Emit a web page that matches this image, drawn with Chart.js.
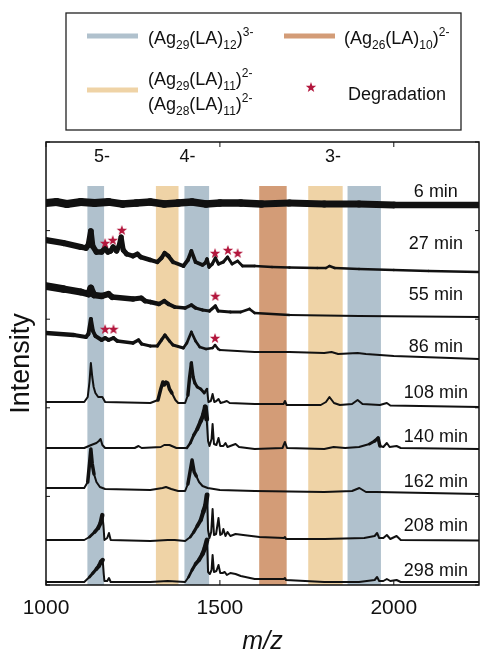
<!DOCTYPE html>
<html>
<head>
<meta charset="utf-8">
<script src="https://cdn.jsdelivr.net/npm/chart.js@4.4.1/dist/chart.umd.min.js"></script>
<style>
  html, body { margin: 0; padding: 0; background: #fff; }
  #wrap { width: 486px; height: 652px; }
</style>
</head>
<body>
<div id="wrap"><canvas id="chartEspectro"></canvas></div>
<script>
// eje m/z
const mzMin = 1000;
const mzMax = 2245;
const xTicks = [1000, 1500, 2000];

// tiempos, desplazamiento vertical de cada espectro y altura de su etiqueta
const tiempos = ['6 min', '27 min', '55 min', '86 min', '108 min', '140 min', '162 min', '208 min', '298 min'];
const offsets = [382, 313, 268, 226, 178, 136, 91, 45, 3];
const alturaEtiqueta = [393, 341, 290, 238, 192, 148, 103, 59, 14];
const mzEtiqueta = 2121;

// espectros [m/z, intensidad]
const t6 = [[1000,0],[1030,1],[1060,-1],[1100,1],[1140,0],[1180,1],[1220,-1],[1260,0],[1300,1],[1340,-1],[1380,0],[1420,1],[1460,-1],[1500,0],[1560,0],[1620,-1],[1700,0],[1800,-1],[1900,-1],[2000,-2],[2245,-2]];
const t27 = [[1000,32],[1050,29],[1100,25],[1115,24],[1122,27],[1129,41],[1134,26],[1145,20],[1160,20],[1170,24],[1178,20],[1186,21],[1193,25],[1203,21],[1210,26],[1216,35],[1222,22],[1232,18],[1250,16],[1263,18],[1272,15],[1300,12],[1320,10],[1332,14],[1341,19],[1352,16],[1365,10],[1395,6],[1408,12],[1418,21],[1430,10],[1450,7],[1458,9],[1463,13],[1469,5],[1478,8],[1487,14],[1496,8],[1510,10],[1522,15],[1535,8],[1551,11],[1565,6],[1600,6],[1650,5],[1700,4.5],[1780,4],[1805,4],[1815,6],[1830,4],[1900,3],[2000,2],[2100,1],[2245,0]];
const t55 = [[1000,31],[1050,28],[1100,25],[1122,23],[1129,29],[1138,22],[1160,21],[1180,23],[1190,20],[1250,18],[1274,19],[1285,16],[1300,15],[1325,13],[1340,16],[1352,13],[1370,10],[1400,9],[1418,12],[1430,9],[1450,7],[1470,6],[1487,11],[1495,6],[1530,5],[1560,5],[1585,8],[1600,4],[1700,2],[1900,1],[2245,0]];
const t86 = [[1000,26],[1080,24],[1115,22],[1122,25],[1129,40],[1135,28],[1142,23],[1160,19],[1170,21],[1180,19],[1194,21],[1205,18],[1250,16],[1266,19],[1275,15],[1300,13],[1320,13],[1332,19],[1342,24],[1355,18],[1365,14],[1395,11],[1405,16],[1418,27],[1430,18],[1442,12],[1460,10],[1479,11],[1486,14],[1495,10],[1500,9],[1600,7],[1700,7],[1800,6],[1821,7],[1840,5],[1896,6],[1920,5],[2000,3],[2245,0]];
const t108 = [[1000,5],[1110,5],[1120,10],[1125,25],[1129,44],[1133,30],[1137,20],[1142,14],[1150,10],[1162,10],[1170,5],[1300,4],[1322,7],[1330,18],[1336,25],[1340,22],[1345,25],[1350,24],[1355,18],[1362,14],[1372,7],[1380,4],[1400,4],[1408,12],[1413,30],[1418,44],[1423,30],[1428,24],[1435,20],[1445,18],[1455,14],[1463,18],[1467,5],[1474,6],[1479,13],[1484,5],[1490,6],[1496,8],[1502,4],[1512,5],[1520,6],[1528,4],[1600,3],[1683,3],[1687,6],[1692,2],[1790,2],[1805,5],[1815,10],[1828,4],[1845,2],[1880,3],[1896,7],[1910,3],[1960,2],[1980,4],[1990,1.5],[2245,0]];
const t140 = [[1000,1],[1110,1],[1130,4],[1145,6],[1152,8],[1157,10],[1162,4],[1170,1],[1255,1],[1266,3],[1275,1],[1330,2],[1340,4],[1355,4],[1375,1],[1405,1],[1415,6],[1425,14],[1435,20],[1445,28],[1452,34],[1458,42],[1462,30],[1466,8],[1470,3],[1476,10],[1479,25],[1483,5],[1490,4],[1496,11],[1501,3],[1510,3],[1516,6],[1522,2],[1545,5],[1555,2],[1600,0],[1680,1],[1687,7],[1693,1],[1800,0],[1827,2],[1860,1],[1900,2],[1930,5],[1945,8],[1955,11],[1960,3],[1970,2],[1980,6],[1988,2],[2008,3],[2020,1],[2245,0]];
const t162 = [[1000,6],[1110,6],[1120,12],[1125,30],[1129,45],[1133,30],[1138,20],[1145,12],[1155,7],[1170,5],[1300,4],[1335,6],[1345,7],[1360,5],[1380,3],[1400,3],[1408,10],[1414,22],[1420,34],[1426,22],[1432,18],[1440,12],[1450,8],[1465,6],[1500,4],[1600,3],[1800,2],[1880,3],[1901,6],[1920,2],[1950,2],[2245,0]];
const t208 = [[1000,0],[1110,0],[1125,3],[1140,8],[1150,12],[1157,17],[1162,25],[1165,15],[1168,0],[1176,2],[1181,7],[1186,0],[1300,-1],[1350,0],[1370,0],[1400,-1],[1415,3],[1425,8],[1435,14],[1445,20],[1452,28],[1459,35],[1463,45],[1466,10],[1470,2],[1475,8],[1479,31],[1483,5],[1489,6],[1496,22],[1501,5],[1506,6],[1510,11],[1516,4],[1522,8],[1530,4],[1545,6],[1567,5],[1614,3],[1684,2],[1687,3],[1690,1],[1802,1],[1915,2],[1945,4],[1952,7],[1958,2],[1970,2],[1980,5],[1990,1],[2008,4],[2020,0],[2245,-0.5]];
const t298 = [[1000,0],[1110,0],[1125,5],[1135,9],[1145,13],[1152,16],[1158,20],[1163,22],[1166,8],[1168,1],[1176,1],[1181,4],[1186,0],[1300,0],[1350,1],[1400,0],[1410,5],[1420,12],[1430,18],[1440,22],[1450,28],[1457,34],[1463,42],[1466,10],[1471,8],[1476,12],[1479,27],[1483,10],[1490,11],[1496,17],[1501,9],[1508,9],[1514,10],[1520,7],[1530,9],[1545,8],[1560,6],[1600,3],[1684,3],[1687,4],[1690,2],[1800,0],[1900,0],[1945,2],[1952,5],[1958,1],[1970,1],[1980,3],[1990,1],[2008,2],[2020,0],[2245,0]];
const espectros = [t6, t27, t55, t86, t108, t140, t162, t208, t298];

// zonas de asignacion (m/z)
const bandaInicio = [1119, 1316, 1398, 1613, 1754, 1867];
const bandaFin = [1167, 1381, 1469, 1692, 1853, 1963];
const bandaTipo = ['azul', 'amarillo', 'azul', 'naranja', 'amarillo', 'azul'];
const bandaTope = 399;

// estados de carga
const cargas = ['5-', '4-', '3-'];
const cargaMz = [1161, 1407, 1825];
const cargaAltura = 428;

// degradacion (*)
const estrellaMz = [1170, 1192, 1218, 1486, 1523, 1551, 1487, 1170, 1194, 1486];
const estrellaAltura = [342, 345, 355, 332, 335, 332, 289, 256, 256, 247];

const colores = { azul: '#b0c1cd', amarillo: '#efd3a6', naranja: '#d39c77' };
const rojo = '#b3173d';
const fuente = '"Liberation Sans", Arial, Helvetica, sans-serif';

// grosor del trazo (zonas ruidosas) por espectro: [desde, hasta, ancho inicial, ancho final]
const grosor = [
    [[1000, 2245, 8, 6.5]],
    [[1000, 1550, 6.5, 2.8], [1550, 2245, 2.8, 2.2]],
    [[1000, 1400, 8, 3.5], [1400, 1700, 3.5, 2.4]],
    [[1000, 1500, 4.5, 2.4]],
    [[1325, 1360, 3.5, 3.5], [1408, 1460, 3.5, 2.5]],
    [[1410, 1462, 2.5, 5], [1920, 1958, 2.5, 3.5]],
    [[1120, 1140, 3.5, 3.5], [1408, 1432, 3.5, 3.5]],
    [[1125, 1163, 2.5, 4.5], [1415, 1463, 2.5, 5]],
    [[1125, 1163, 2.5, 4.5], [1410, 1463, 2.5, 5]]
];

function anchoEn(rangos, x) {
    for (const [a, b, w0, w1] of rangos) {
        if (x >= a && x < b) return w0 + (w1 - w0) * (x - a) / (b - a);
    }
    return 2;
}

// imagen del asterisco rojo (estrella de 5 puntas)
function crearEstrella() {
    const c = document.createElement('canvas');
    c.width = 14; c.height = 14;
    const g = c.getContext('2d');
    g.fillStyle = rojo;
    g.beginPath();
    for (let k = 0; k < 10; k++) {
        const r = k % 2 === 0 ? 5.5 : 2.2;
        const ang = -Math.PI / 2 + k * Math.PI / 5;
        const px = 7 + r * Math.cos(ang);
        const py = 7.5 + r * Math.sin(ang);
        if (k === 0) g.moveTo(px, py); else g.lineTo(px, py);
    }
    g.closePath();
    g.fill();
    return c;
}
const estrella = crearEstrella();

function textoRico(ctx, x, y, partes) {
    partes.forEach(([t, modo]) => {
        let size = 18, dy = 0;
        if (modo === 'sub') { size = 12; dy = 5; }
        if (modo === 'sup') { size = 12; dy = -8; }
        ctx.font = size + 'px ' + fuente;
        ctx.fillText(t, x, y + dy);
        x += ctx.measureText(t).width;
    });
}

const leyenda = {
    azul: [['(Ag',''],['29','sub'],['(LA)',''],['12','sub'],[')',''],['3-','sup']],
    naranja: [['(Ag',''],['26','sub'],['(LA)',''],['10','sub'],[')',''],['2-','sup']],
    amarillo1: [['(Ag',''],['29','sub'],['(LA)',''],['11','sub'],[')',''],['2-','sup']],
    amarillo2: [['(Ag',''],['28','sub'],['(LA)',''],['11','sub'],[')',''],['2-','sup']]
};

const decoracion = {
    id: 'decoracion',
    beforeDatasetsDraw(chart) {
        const { ctx, scales: { x, y } } = chart;
        ctx.save();
        bandaInicio.forEach((ini, i) => {
            const x0 = x.getPixelForValue(ini);
            const x1 = x.getPixelForValue(bandaFin[i]);
            const y0 = y.getPixelForValue(bandaTope);
            const y1 = y.getPixelForValue(0);
            ctx.fillStyle = colores[bandaTipo[i]];
            ctx.fillRect(x0, y0, x1 - x0, y1 - y0);
        });
        ctx.restore();
    },
    afterDatasetsDraw(chart) {
        const { ctx, chartArea: a, scales: { x, y } } = chart;
        ctx.save();
        // marco
        ctx.strokeStyle = '#111';
        ctx.lineWidth = 1.5;
        ctx.strokeRect(a.left, a.top, a.right - a.left, a.bottom - a.top);
        // ticks hacia dentro
        ctx.lineWidth = 1;
        ctx.beginPath();
        x.ticks.forEach(t => {
            const px = x.getPixelForValue(t.value);
            ctx.moveTo(px, a.bottom); ctx.lineTo(px, a.bottom - 5);
            ctx.moveTo(px, a.top); ctx.lineTo(px, a.top + 5);
        });
        y.ticks.forEach(t => {
            const py = y.getPixelForValue(t.value);
            ctx.moveTo(a.left, py); ctx.lineTo(a.left + 4, py);
            ctx.moveTo(a.right, py); ctx.lineTo(a.right - 4, py);
        });
        ctx.stroke();
        // textos
        ctx.fillStyle = '#111';
        ctx.font = '18px ' + fuente;
        ctx.textAlign = 'center';
        ctx.textBaseline = 'middle';
        tiempos.forEach((t, i) => {
            ctx.fillText(t, x.getPixelForValue(mzEtiqueta), y.getPixelForValue(alturaEtiqueta[i]));
        });
        cargas.forEach((c, i) => {
            ctx.fillText(c, x.getPixelForValue(cargaMz[i]), y.getPixelForValue(cargaAltura));
        });
        ctx.restore();
    },
    afterDraw(chart) {
        const { ctx } = chart;
        ctx.save();
        ctx.strokeStyle = '#222';
        ctx.lineWidth = 1.3;
        ctx.strokeRect(66, 13, 395, 117);
        ctx.lineWidth = 5;
        [['azul', 87, 36], ['naranja', 284, 36], ['amarillo', 87, 90]].forEach(([k, lx, ly]) => {
            ctx.strokeStyle = colores[k];
            ctx.beginPath(); ctx.moveTo(lx, ly); ctx.lineTo(lx + 51, ly); ctx.stroke();
        });
        ctx.drawImage(estrella, 311 - 7, 87 - 7);
        ctx.fillStyle = '#111';
        ctx.textAlign = 'left';
        ctx.textBaseline = 'alphabetic';
        textoRico(ctx, 148, 44, leyenda.azul);
        textoRico(ctx, 344, 44, leyenda.naranja);
        textoRico(ctx, 148, 85, leyenda.amarillo1);
        textoRico(ctx, 148, 110, leyenda.amarillo2);
        ctx.font = '18px ' + fuente;
        ctx.fillText('Degradation', 348, 100);
        ctx.restore();
    }
};

const datasets = [{
    label: 'Degradation',
    data: estrellaMz.map((m, i) => ({ x: m, y: estrellaAltura[i] })),
    showLine: false,
    pointStyle: estrella,
    pointRadius: 6,
    order: 0
}];
espectros.forEach((esp, i) => {
    datasets.push({
        label: tiempos[i],
        data: esp.map(([m, v]) => ({ x: m, y: v + offsets[i] })),
        borderColor: '#111',
        borderWidth: 2,
        borderCapStyle: 'round',
        borderJoinStyle: 'round',
        pointRadius: 0,
        tension: 0,
        fill: false,
        order: 1,
        segment: {
            borderWidth: c => anchoEn(grosor[i], (c.p0.parsed.x + c.p1.parsed.x) / 2)
        }
    });
});

new Chart(document.getElementById('chartEspectro'), {
    type: 'line',
    data: { datasets },
    options: {
        responsive: true,
        maintainAspectRatio: false,
        animation: false,
        layout: { padding: { top: 142, right: 0, left: 0, bottom: 0 } },
        plugins: { legend: { display: false }, tooltip: { enabled: false } },
        scales: {
            x: {
                type: 'linear',
                min: mzMin,
                max: mzMax,
                afterBuildTicks: s => { s.ticks = xTicks.map(v => ({ value: v })); },
                afterFit: s => { s.height = 67; },
                grid: { display: false, drawTicks: false },
                border: { display: false },
                ticks: { font: { size: 21, family: fuente }, color: '#111', padding: 11, maxRotation: 0, autoSkip: false, callback: v => String(v) },
                title: { display: true, text: 'm/z', color: '#111', font: { size: 25, style: 'italic', family: fuente, lineHeight: 0.8 }, padding: 0 }
            },
            y: {
                min: 0,
                max: 443,
                afterBuildTicks: s => { s.ticks = [0, 1, 2, 3, 4, 5].map(k => ({ value: k * 88.6 })); },
                afterFit: s => { s.width = 46; },
                grid: { display: false, drawTicks: false },
                border: { display: false },
                ticks: { display: false },
                title: { display: true, text: 'Intensity', color: '#111', font: { size: 27, family: fuente, lineHeight: 1 }, padding: { top: 8, bottom: 0 } }
            }
        }
    },
    plugins: [decoracion]
});
</script>
</body>
</html>
